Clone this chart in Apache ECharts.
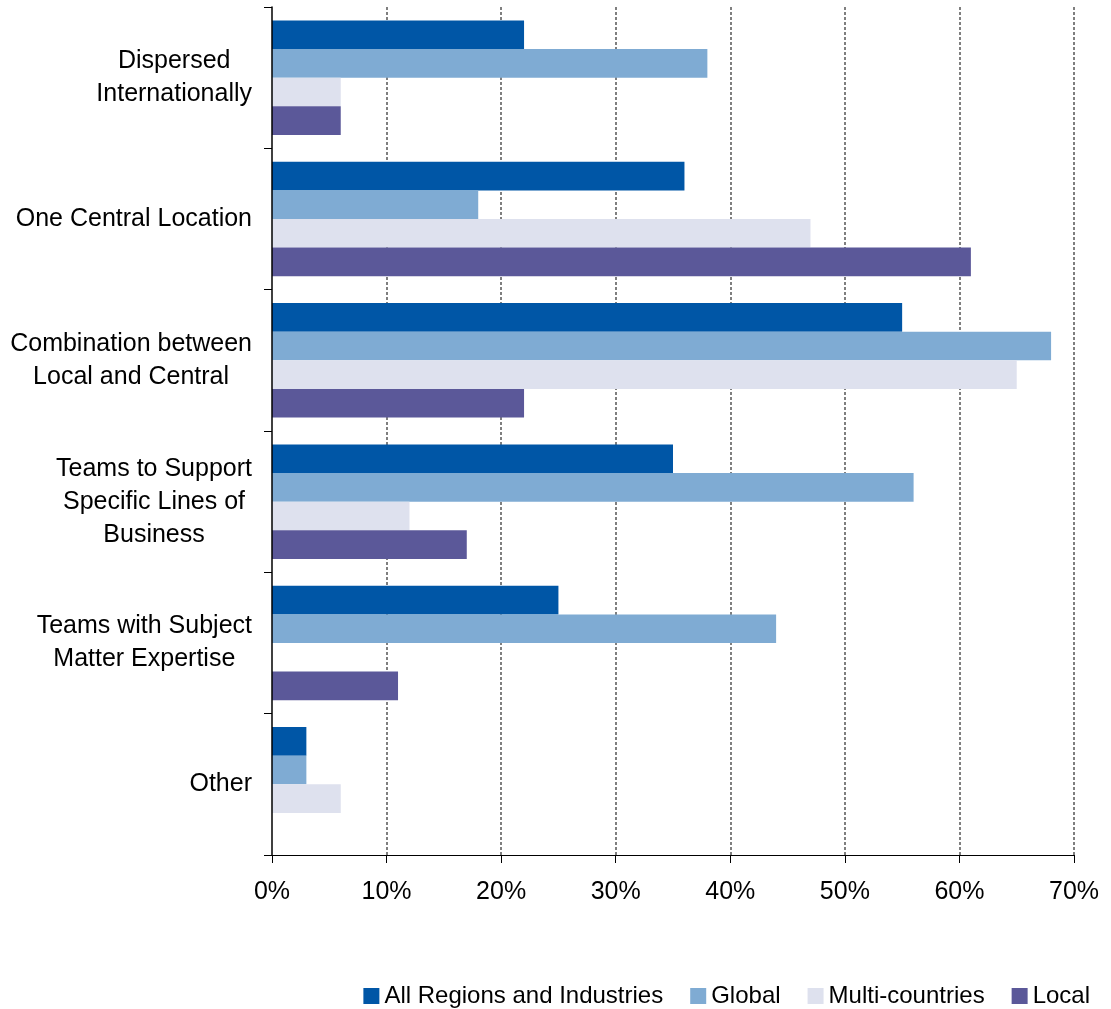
<!DOCTYPE html>
<html>
<head>
<meta charset="utf-8">
<script src="https://cdn.jsdelivr.net/npm/echarts@6/dist/echarts.min.js"></script>
<style>
  html, body { margin: 0; padding: 0; background: #ffffff; }
  #chart { width: 1111px; height: 1009px; }
</style>
</head>
<body>
<div id="chart"></div>
<script>
// Categories, top to bottom ("\n" marks line breaks in the axis labels)
const categories = [
  'Dispersed\nInternationally',
  'One Central Location',
  'Combination between\nLocal and Central',
  'Teams to Support\nSpecific Lines of\nBusiness',
  'Teams with Subject\nMatter Expertise',
  'Other'
];

// Share of respondents (%) per group
const allRegions    = [22, 36, 55, 35, 25, 3];
const globalValues  = [38, 18, 68, 56, 44, 3];
const multiCountry  = [6, 47, 65, 12, 0, 6];
const localValues   = [6, 61, 22, 17, 11, 0];

const seriesNames  = ['All Regions and Industries', 'Global', 'Multi-countries', 'Local'];
const seriesData   = [allRegions, globalValues, multiCountry, localValues];
const seriesColors = ['#0056A6', '#7FABD3', '#DEE1EE', '#5B5899'];

// Axis ticks
const xMin = 0, xMax = 70, xStep = 10;

const FONT = '"Liberation Sans", Arial, sans-serif';

const chart = echarts.init(document.getElementById('chart'), null, { renderer: 'canvas' });

chart.setOption({
  animation: false,
  backgroundColor: '#ffffff',
  textStyle: { fontFamily: FONT, color: '#000000' },
  grid: { left: 272, right: 37, top: 7, bottom: 154, containLabel: false },
  legend: {
    data: seriesNames,
    right: 16,
    bottom: -4,
    itemWidth: 16,
    itemHeight: 16,
    itemGap: 27,
    icon: 'rect',
    textStyle: { fontFamily: FONT, fontSize: 24, color: '#000000' }
  },
  xAxis: {
    type: 'value',
    min: xMin,
    max: xMax,
    interval: xStep,
    axisLine: { show: true, lineStyle: { color: '#000000', width: 1 } },
    axisTick: { show: true, length: 8, lineStyle: { color: '#000000', width: 1 } },
    axisLabel: {
      formatter: '{value}%',
      fontFamily: FONT,
      fontSize: 25,
      color: '#000000',
      margin: 25
    },
    splitLine: {
      show: true,
      showMinLine: false,
      showMaxLine: true,
      lineStyle: { color: '#555555', width: 1.5, type: [3, 2] }
    }
  },
  yAxis: {
    type: 'category',
    data: categories,
    inverse: true,
    z: 5,
    axisLine: { show: true, onZero: false, lineStyle: { color: '#000000', width: 1.5 } },
    axisTick: { show: true, length: 8, lineStyle: { color: '#000000', width: 1 } },
    splitLine: { show: false },
    axisLabel: {
      margin: 20,
      fontFamily: FONT,
      fontSize: 25,
      color: '#000000',
      formatter: function (v) {
        return v.split('\n').map(function (line) { return '{c|' + line + '}'; }).join('\n');
      },
      rich: {
        c: { align: 'center', fontFamily: FONT, fontSize: 25, lineHeight: 33, color: '#000000' }
      }
    }
  },
  series: seriesData.map(function (values, i) {
    return {
      name: seriesNames[i],
      type: 'bar',
      data: values,
      barGap: '0%',
      barCategoryGap: '19%',
      itemStyle: { color: seriesColors[i] }
    };
  })
});
</script>
</body>
</html>
